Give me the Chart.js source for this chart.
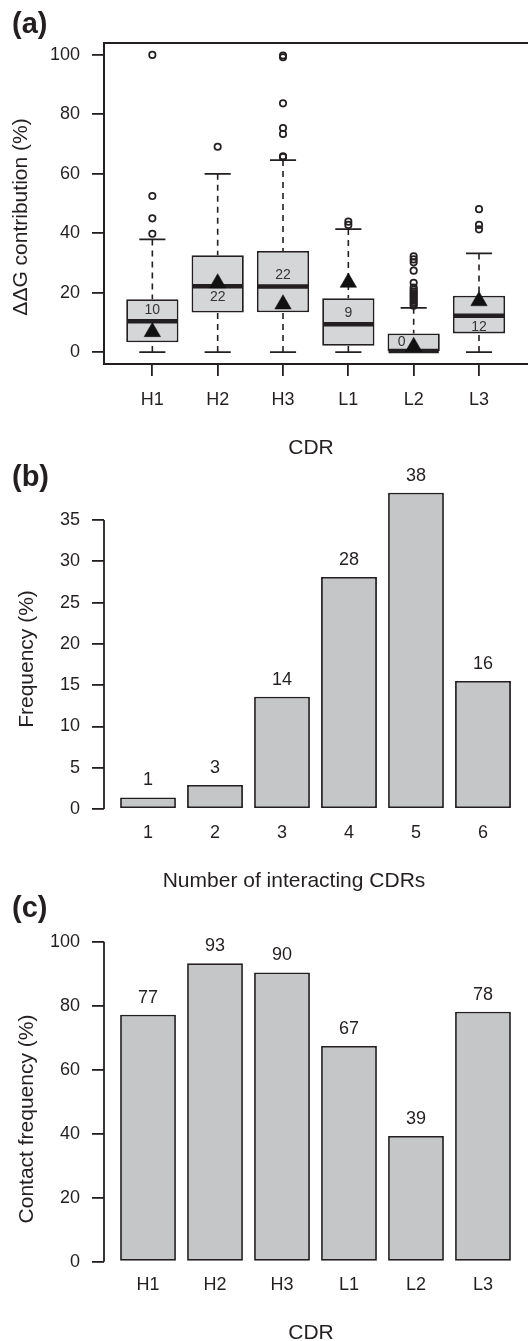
<!DOCTYPE html>
<html>
<head>
<meta charset="utf-8">
<script src="https://cdn.jsdelivr.net/npm/chart.js@4.4.1/dist/chart.umd.min.js"></script>
<style>
  html, body { margin: 0; padding: 0; background: #fff; }
  #wrap { position: relative; width: 528px; height: 1341px; }
  canvas { position: absolute; left: 0; }
</style>
</head>
<body>
<div id="wrap">
  <canvas id="panelA" width="528" height="460" style="top:0px"></canvas>
  <canvas id="panelB" width="528" height="435" style="top:460px"></canvas>
  <canvas id="panelC" width="528" height="446" style="top:895px"></canvas>
</div>
<script>
// (a) ddG contribution per CDR (box plot)
const cdrs = ["H1", "H2", "H3", "L1", "L2", "L3"];
const boxLow = [3.3, 13.3, 13.4, 2.1, 0, 6.3];        // first quartile
const boxHigh = [17.8, 32.6, 34.0, 18.1, 6.3, 19.0];  // third quartile
const medians = [10.4, 22.2, 22.1, 9.4, 0.4, 12.2];
const medianLabels = ["10", "22", "22", "9", "0", "12"];
const whiskerLow = [0, 0, 0, 0, 0, 0];
const whiskerHigh = [37.9, 60.0, 64.6, 41.4, 14.9, 33.2];
const means = [6.8, 23.2, 16.1, 23.4, 1.8, 17.2];
const outliers = [
    [39.8, 45.0, 52.5, 100],
    [69.1],
    [65.6, 65.9, 73.4, 75.4, 83.7, 99.2, 99.8],
    [42.8, 43.9],
    [15.6, 16.2, 16.8, 17.4, 18.0, 18.6, 19.2, 19.8, 20.4, 21.0, 21.7, 23.3, 27.4, 30.2, 31.2, 32.2],
    [41.3, 42.8, 48.1]
];
const ddgTicks = [0, 20, 40, 60, 80, 100];

// (b) number of interacting CDRs
const nCdrs = ["1", "2", "3", "4", "5", "6"];
const nCdrFreq = [1.4, 2.9, 13.6, 28.1, 38.3, 15.5];
const freqTicks = [0, 5, 10, 15, 20, 25, 30, 35];

// (c) contact frequency per CDR
const contactFreq = [77.2, 93.3, 90.4, 67.4, 39.3, 78.1];
const contactTicks = [0, 20, 40, 60, 80, 100];

const FONT = "'Liberation Sans', Arial, Helvetica, sans-serif";
const INK = "#231f20";
const BOX_FILL = "#d5d6d8";
const BAR_FILL = "#c5c6c8";

// R-like fixed margins
function fixWidth(w) {
    return (scale) => { scale.width = w; scale.paddingTop = 0; scale.paddingBottom = 0; };
}
function fixHeight(h) {
    return (scale) => { scale.height = h; scale.paddingLeft = 0; scale.paddingRight = 0; };
}
function setTicks(values) {
    return (scale) => { scale.ticks = values.map(v => ({ value: v })); };
}
const idx = (arr) => arr.map((_, i) => i);

// titles and panel letter
const titlesPlugin = {
    id: "titles",
    afterDraw(chart, args, o) {
        const ctx = chart.ctx;
        ctx.save();
        ctx.fillStyle = INK;
        ctx.font = "bold 29px " + FONT;
        ctx.textAlign = "left";
        ctx.textBaseline = "alphabetic";
        ctx.fillText(o.letter, 12, o.letterY);

        ctx.font = "21px " + FONT;
        ctx.textAlign = "center";
        ctx.fillText(o.xTitle, o.xTitleX, o.xTitleY);

        ctx.translate(o.yTitleX, o.yTitleY);
        ctx.rotate(-Math.PI / 2);
        ctx.fillText(o.yTitle, 0, 0);
        ctx.restore();
    }
};

// whiskers, medians and median labels, drawn right after the boxes
const boxPartsPlugin = {
    id: "boxParts",
    afterDatasetDraw(chart, args) {
        if (args.index !== 0) return;
        const ctx = chart.ctx;
        const y = chart.scales.y;
        const boxes = chart.getDatasetMeta(0).data;
        ctx.save();
        ctx.strokeStyle = INK;
        boxes.forEach((bar, i) => {
            const cx = bar.x;
            const half = bar.width / 2;
            const yLo = y.getPixelForValue(whiskerLow[i]);
            const yHi = y.getPixelForValue(whiskerHigh[i]);

            ctx.lineWidth = 1.6;
            ctx.setLineDash([6, 5]);
            ctx.beginPath();
            ctx.moveTo(cx, yHi);
            ctx.lineTo(cx, y.getPixelForValue(boxHigh[i]));
            ctx.moveTo(cx, yLo);
            ctx.lineTo(cx, y.getPixelForValue(boxLow[i]));
            ctx.stroke();
            ctx.setLineDash([]);

            ctx.lineWidth = 1.8;
            ctx.beginPath();
            ctx.moveTo(cx - half / 2, yHi);
            ctx.lineTo(cx + half / 2, yHi);
            ctx.moveTo(cx - half / 2, yLo);
            ctx.lineTo(cx + half / 2, yLo);
            ctx.stroke();

            const yMed = y.getPixelForValue(medians[i]);
            ctx.lineWidth = 4.5;
            ctx.beginPath();
            ctx.moveTo(cx - half + 1, yMed);
            ctx.lineTo(cx + half - 1, yMed);
            ctx.stroke();
        });

        // median value labels (placement per box so they stay readable)
        const place = ["above", "below", "above", "above", "left", "below"];
        ctx.fillStyle = "#333";
        ctx.font = "14px " + FONT;
        ctx.textAlign = "center";
        ctx.textBaseline = "middle";
        boxes.forEach((bar, i) => {
            const yMed = y.getPixelForValue(medians[i]);
            let tx = bar.x, ty = yMed - 11;
            if (place[i] === "below") ty = yMed + 11;
            if (place[i] === "left") { tx = bar.x - 12; ty = yMed - 9; }
            ctx.fillText(medianLabels[i], tx, ty);
        });
        ctx.restore();
    },
    afterDraw(chart) {
        // box around the plot (right side falls off the figure)
        const ctx = chart.ctx;
        const a = chart.chartArea;
        ctx.save();
        ctx.strokeStyle = INK;
        ctx.lineWidth = 2;
        ctx.beginPath();
        ctx.moveTo(a.right + 2, a.top);
        ctx.lineTo(a.left, a.top);
        ctx.lineTo(a.left, a.bottom);
        ctx.lineTo(a.right + 2, a.bottom);
        ctx.stroke();
        ctx.restore();
    }
};

// y axis line from first to last tick + value labels above bars
const barExtrasPlugin = {
    id: "barExtras",
    afterDraw(chart, args, o) {
        const ctx = chart.ctx;
        const y = chart.scales.y;
        const x0 = chart.chartArea.left;
        ctx.save();
        ctx.strokeStyle = INK;
        ctx.lineWidth = 1.8;
        ctx.beginPath();
        ctx.moveTo(x0, y.getPixelForValue(o.ticks[0]));
        ctx.lineTo(x0, y.getPixelForValue(o.ticks[o.ticks.length - 1]));
        ctx.stroke();

        ctx.fillStyle = INK;
        ctx.font = "18px " + FONT;
        ctx.textAlign = "center";
        ctx.textBaseline = "middle";
        chart.getDatasetMeta(0).data.forEach((bar, i) => {
            ctx.fillText(String(Math.round(o.values[i])), bar.x, bar.y - 17);
        });
        ctx.restore();
    }
};

const tickFont = { family: FONT, size: 18 };

function yAxis(min, max, ticks) {
    return {
        min: min,
        max: max,
        afterBuildTicks: setTicks(ticks),
        afterFit: fixWidth(104),
        grid: { drawOnChartArea: false, drawTicks: true, tickLength: 12, color: INK, lineWidth: 1.8 },
        border: { display: false },
        ticks: { padding: 12, color: INK, font: tickFont }
    };
}

function xAxis(min, max, labels, height, pad, drawTicks) {
    return {
        type: "linear",
        min: min,
        max: max,
        offset: false,
        afterBuildTicks: setTicks(idx(labels)),
        afterFit: fixHeight(height),
        grid: { offset: false, drawOnChartArea: false, drawTicks: drawTicks, tickLength: 12, color: INK, lineWidth: 1.8 },
        border: { display: false },
        ticks: {
            autoSkip: false, maxRotation: 0, padding: pad, color: INK, font: tickFont,
            callback: (v) => labels[v]
        }
    };
}

const common = {
    responsive: false,
    devicePixelRatio: 1,
    animation: false,
    events: []
};

// ---- (a) ----
const outlierPoints = [];
outliers.forEach((list, i) => list.forEach(v => outlierPoints.push({ x: i, y: v })));

new Chart(document.getElementById("panelA"), {
    type: "bar",
    data: {
        datasets: [{
            type: "bar",
            order: 3,
            data: cdrs.map((c, i) => ({ x: i, y: [boxLow[i], boxHigh[i]] })),
            backgroundColor: BOX_FILL,
            borderColor: INK,
            borderWidth: 1.8,
            borderSkipped: false,
            barPercentage: 0.8,
            categoryPercentage: 1
        }, {
            type: "scatter",
            order: 2,
            data: outlierPoints,
            pointStyle: "circle",
            pointRadius: 3.2,
            pointBorderWidth: 1.7,
            pointBorderColor: INK,
            pointBackgroundColor: "rgba(0,0,0,0)"
        }, {
            type: "scatter",
            order: 1,
            data: means.map((m, i) => ({ x: i, y: m })),
            pointStyle: "triangle",
            pointRadius: 9.5,
            pointBorderWidth: 0.5,
            pointBorderColor: "#111",
            pointBackgroundColor: "#111"
        }]
    },
    options: {
        ...common,
        layout: { autoPadding: false, padding: { top: 43, left: 0, right: 0, bottom: 0 } },
        scales: {
            x: xAxis(-0.74, 5.75, cdrs, 96, 13, true),
            y: yAxis(-4, 104, ddgTicks)
        },
        plugins: {
            legend: { display: false },
            tooltip: { enabled: false },
            titles: {
                letter: "(a)", letterY: 33,
                xTitle: "CDR", xTitleX: 311, xTitleY: 453.5,
                yTitle: "\u0394\u0394G contribution (%)", yTitleX: 27, yTitleY: 217
            }
        }
    },
    plugins: [boxPartsPlugin, titlesPlugin]
});

// ---- (b) ----
new Chart(document.getElementById("panelB"), {
    type: "bar",
    data: {
        datasets: [{
            data: nCdrFreq.map((v, i) => ({ x: i, y: v })),
            backgroundColor: BAR_FILL,
            borderColor: INK,
            borderWidth: 1.8,
            borderSkipped: false,
            barPercentage: 1 / 1.2,
            categoryPercentage: 1
        }]
    },
    options: {
        ...common,
        layout: { autoPadding: false, padding: { top: 27, left: 0, right: 0, bottom: 0 } },
        scales: {
            x: xAxis(-0.657, 5.672, nCdrs, 86, 13.7, false),
            y: yAxis(0, 39, freqTicks)
        },
        plugins: {
            legend: { display: false },
            tooltip: { enabled: false },
            barExtras: { ticks: freqTicks, values: nCdrFreq },
            titles: {
                letter: "(b)", letterY: 25.5,
                xTitle: "Number of interacting CDRs", xTitleX: 294, xTitleY: 426.5,
                yTitle: "Frequency (%)", yTitleX: 32.5, yTitleY: 199
            }
        }
    },
    plugins: [barExtrasPlugin, titlesPlugin]
});

// ---- (c) ----
new Chart(document.getElementById("panelC"), {
    type: "bar",
    data: {
        datasets: [{
            data: contactFreq.map((v, i) => ({ x: i, y: v })),
            backgroundColor: BAR_FILL,
            borderColor: INK,
            borderWidth: 1.8,
            borderSkipped: false,
            barPercentage: 1 / 1.2,
            categoryPercentage: 1
        }]
    },
    options: {
        ...common,
        layout: { autoPadding: false, padding: { top: 30.7, left: 0, right: 0, bottom: 0 } },
        scales: {
            x: xAxis(-0.657, 5.672, cdrs, 79.3, 12.5, false),
            y: yAxis(0, 105, contactTicks)
        },
        plugins: {
            legend: { display: false },
            tooltip: { enabled: false },
            barExtras: { ticks: contactTicks, values: contactFreq },
            titles: {
                letter: "(c)", letterY: 22,
                xTitle: "CDR", xTitleX: 311, xTitleY: 444,
                yTitle: "Contact frequency (%)", yTitleX: 33, yTitleY: 224
            }
        }
    },
    plugins: [barExtrasPlugin, titlesPlugin]
});
</script>
</body>
</html>
